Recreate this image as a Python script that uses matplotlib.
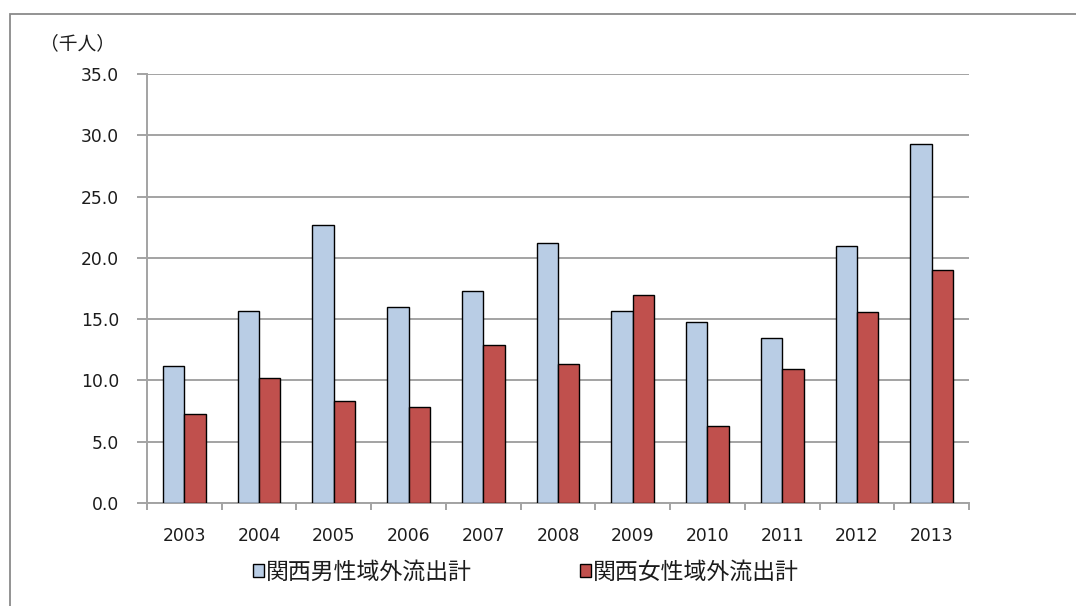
import matplotlib.pyplot as plt
import numpy as np
from matplotlib.patches import Rectangle

plt.rcParams['font.family'] = ['Noto Sans CJK JP', 'DejaVu Sans']

years = ['2003', '2004', '2005', '2006', '2007', '2008',
         '2009', '2010', '2011', '2012', '2013']
male_out = [11.2, 15.7, 22.7, 16.0, 17.3, 21.2, 15.7, 14.8, 13.5, 21.0, 29.3]
female_out = [7.3, 10.2, 8.3, 7.8, 12.9, 11.3, 17.0, 6.3, 10.9, 15.6, 19.0]
label_male = '関西男性域外流出計'
label_female = '関西女性域外流出計'

BLUE = '#B9CDE5'
RED = '#C0504D'
GRID = '#A3A3A3'
TXT = '#1c1c1c'

fig = plt.figure(figsize=(10.76, 6.06), dpi=100)
ax = fig.add_axes([147 / 1076, 1 - 503 / 606, 822 / 1076, 429 / 606])

x = np.arange(len(years))
w = 0.286
b1 = ax.bar(x - w / 2, male_out, w, color=BLUE, edgecolor='black', linewidth=1.0,
            label=label_male, zorder=3)
b2 = ax.bar(x + w / 2, female_out, w, color=RED, edgecolor='black', linewidth=1.0,
            label=label_female, zorder=3)

ax.set_xlim(-0.5, len(years) - 0.5)
ax.set_ylim(0, 35)
ax.set_yticks(np.arange(0, 35.1, 5))
ax.set_yticklabels([f'{v:.1f}' for v in np.arange(0, 35.1, 5)],
                   family='DejaVu Sans', fontsize=12.3, color=TXT)
ax.grid(axis='y', color=GRID, linewidth=1.4, zorder=0)

# category labels at centres, tick marks at the boundaries
ax.set_xticks(x)
ax.set_xticklabels(years, family='DejaVu Sans', fontsize=12.3, color=TXT)
ax.set_xticks(np.arange(-0.5, len(years), 1), minor=True)
ax.tick_params(axis='x', which='major', length=0, pad=17.5)
ax.tick_params(axis='x', which='minor', length=5, width=1.4, color=GRID)
ax.tick_params(axis='y', length=7, width=1.4, color=GRID, pad=13)

for side in ['top', 'right']:
    ax.spines[side].set_visible(False)
for side in ['left', 'bottom']:
    ax.spines[side].set_color(GRID)
    ax.spines[side].set_linewidth(1.4)

fig.text(40 / 1076, 1 - 44 / 606, '（千人）', fontsize=13.5, color=TXT,
         va='center', ha='left')

leg = fig.legend(handles=[b1, b2], loc='center', bbox_to_anchor=(526 / 1076, 1 - 572 / 606),
                 ncol=2, frameon=False, fontsize=16.5, handlelength=0.5,
                 handleheight=0.5, handletextpad=0.08, columnspacing=4.7)
for t in leg.get_texts():
    t.set_color(TXT)

# outer chart border
fig.patches.append(Rectangle((9.5 / 1076, -0.1), 1.2, 1 - 13.5 / 606 + 0.1,
                             transform=fig.transFigure, fill=False,
                             edgecolor='#8a8a8a', linewidth=1.3))

fig.savefig('out.png', dpi=100)
